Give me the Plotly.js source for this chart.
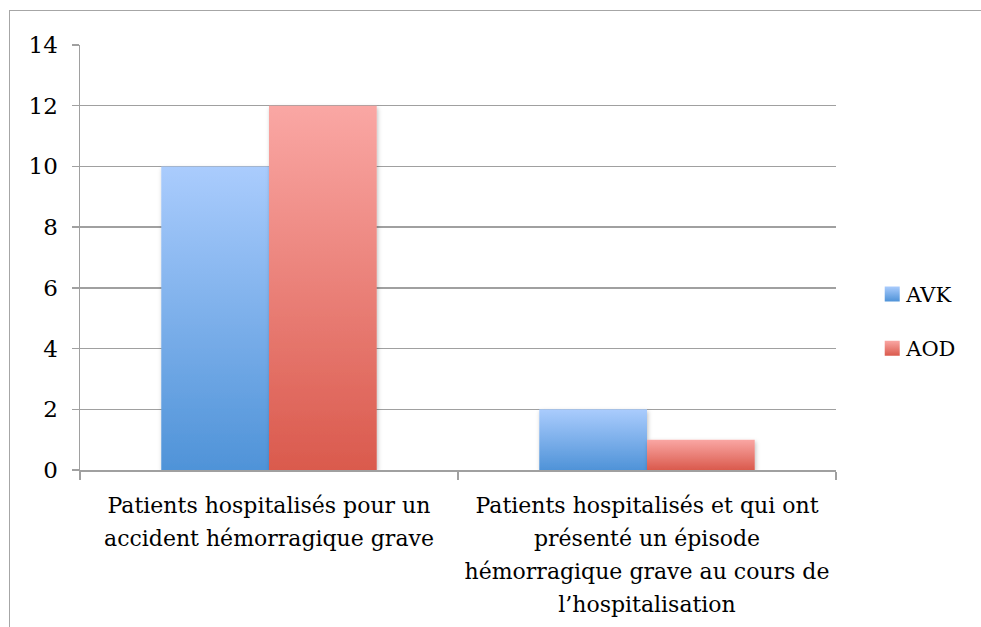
<!DOCTYPE html>
<html>
<head>
<meta charset="utf-8">
<script src="https://cdn.plot.ly/plotly-3.0.1.min.js"></script>
<style>
html,body{margin:0;padding:0;background:#fff;overflow:hidden;}
#frame{position:absolute;left:9px;top:10px;width:1100px;height:800px;border:1.5px solid #A6A6A6;box-sizing:border-box;}
#chart{position:absolute;left:0;top:0;width:981px;height:627px;}
</style>
</head>
<body>
<div id="frame"></div>
<div id="chart"></div>
<script>
const categories = [
  "Patients hospitalisés pour un<br>accident hémorragique grave",
  "Patients hospitalisés et qui ont<br>présenté un épisode<br>hémorragique grave au cours de<br>l’hospitalisation"
];
const seriesNames = ["AVK", "AOD"];
const avkValues = [10, 2];
const aodValues = [12, 1];
const yTicks = [0, 2, 4, 6, 8, 10, 12, 14];

const FONT = "DejaVu Serif";

const traces = [
  {type:"bar", name:seriesNames[0], x:categories, y:avkValues, legendgroup:"a",
   marker:{color:"#7BAEE8", line:{width:0}}},
  {type:"bar", name:seriesNames[1], x:categories, y:aodValues, legendgroup:"b",
   marker:{color:"#EC7F78", line:{width:0}}}
];

const layout = {
  width:981, height:627,
  margin:{l:80, r:145, t:45, b:157, autoexpand:false},
  paper_bgcolor:"rgba(0,0,0,0)", plot_bgcolor:"rgba(0,0,0,0)",
  font:{family:FONT, size:22, color:"#000"},
  barmode:"group", bargap:0.43, bargroupgap:0,
  showlegend:true,
  legend:{xref:"container", x:0.883, xanchor:"left", y:0.35, yanchor:"middle", traceorder:"grouped",
          tracegroupgap:24, font:{family:FONT, size:21}, bgcolor:"rgba(0,0,0,0)",
          itemwidth:30},
  xaxis:{type:"category", tickson:"boundaries", ticks:"outside", ticklen:8, tickcolor:"#A0A0A0",
         tickwidth:1.5, showline:true, linecolor:"#A0A0A0", linewidth:1.5, showgrid:false,
         tickangle:0, ticklabelstandoff:15, tickfont:{family:FONT, size:22}, fixedrange:true},
  yaxis:{range:[0,14], tickvals:yTicks, ticks:"outside", ticklen:7, tickcolor:"#A0A0A0",
         tickwidth:1.5, showline:true, linecolor:"#A0A0A0", linewidth:1.5,
         showgrid:true, gridcolor:"#A0A0A0", gridwidth:1.5, zeroline:false,
         ticklabelstandoff:9, tickfont:{family:FONT, size:23}, fixedrange:true}
};

Plotly.newPlot("chart", traces, layout, {displayModeBar:false, staticPlot:true}).then(function(gd){
  const svg = gd.querySelector("svg.main-svg");
  const ns = "http://www.w3.org/2000/svg";
  let defs = svg.querySelector("defs");
  function grad(id, top, bottom){
    const g = document.createElementNS(ns, "linearGradient");
    g.setAttribute("id", id);
    g.setAttribute("x1","0"); g.setAttribute("y1","0"); g.setAttribute("x2","0"); g.setAttribute("y2","1");
    const s1 = document.createElementNS(ns,"stop"); s1.setAttribute("offset","0"); s1.setAttribute("stop-color",top);
    const s2 = document.createElementNS(ns,"stop"); s2.setAttribute("offset","1"); s2.setAttribute("stop-color",bottom);
    g.appendChild(s1); g.appendChild(s2); defs.appendChild(g);
  }
  grad("gBlue", "#AACCFD", "#4F93D8");
  grad("gRed", "#FAA7A4", "#DA5A4D");
  const f = document.createElementNS(ns, "filter");
  f.setAttribute("id","shadow"); f.setAttribute("x","-10%"); f.setAttribute("y","-10%");
  f.setAttribute("width","130%"); f.setAttribute("height","130%");
  f.innerHTML = '<feDropShadow dx="1" dy="2" stdDeviation="2" flood-color="#000" flood-opacity="0.25"/>';
  defs.appendChild(f);
  const ids = ["gBlue","gRed"];
  gd.querySelectorAll(".barlayer .trace").forEach(function(t, i){
    t.setAttribute("filter","url(#shadow)");
    t.querySelectorAll("path").forEach(function(p){ p.style.fill = "url(#" + ids[i] + ")"; });
  });
  gd.querySelectorAll(".legend .traces").forEach(function(t, i){
    t.querySelectorAll(".legendpoints path").forEach(function(p){
      p.style.fill = "url(#" + ids[i] + ")";
      p.setAttribute("d", "M7.5,7.5H-7.5V-7.5H7.5Z");
      p.setAttribute("transform", "translate(26,0)");
    });
  });
  // slightly wider line spacing for multi-line category labels
  gd.querySelectorAll(".xtick text").forEach(function(tx){
    tx.querySelectorAll("tspan.line").forEach(function(ts, i){
      const d = parseFloat(ts.getAttribute("dy") || "0");
      ts.setAttribute("dy", (d + i * 0.2) + "em");
    });
  });
});
</script>
</body>
</html>
